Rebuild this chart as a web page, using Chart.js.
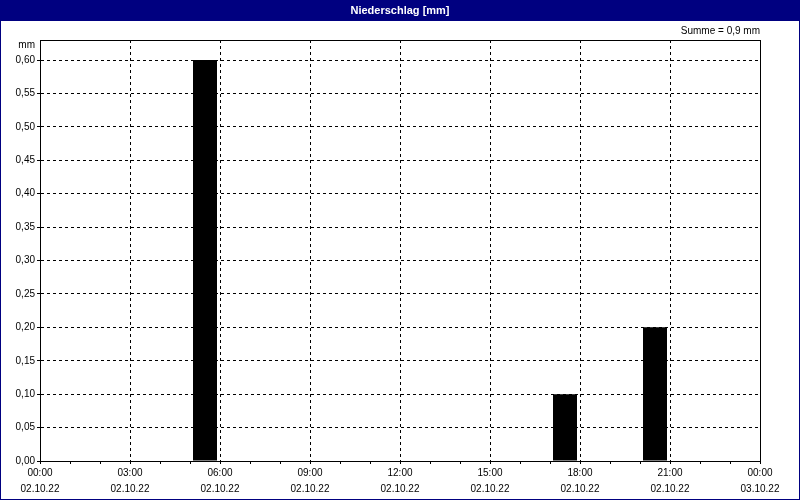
<!DOCTYPE html>
<html>
<head>
<meta charset="utf-8">
<script src="https://cdn.jsdelivr.net/npm/chart.js@4"></script>
<style>
  html, body { margin: 0; padding: 0; background: #fff; }
</style>
</head>
<body>
<canvas id="chart" width="800" height="500"></canvas>
<script>
// hourly rain, index = hour of day (interval h:00 - h+1:00)
var hours = [0, 1, 2, 3, 4, 5, 6, 7, 8, 9, 10, 11, 12, 13, 14, 15, 16, 17, 18, 19, 20, 21, 22, 23];
var rainMm = [0, 0, 0, 0, 0, 0.6, 0, 0, 0, 0, 0, 0, 0, 0, 0, 0, 0, 0.1, 0, 0, 0.2, 0, 0, 0];
var timeLabels = ['00:00', '03:00', '06:00', '09:00', '12:00', '15:00', '18:00', '21:00', '00:00'];
var dateLabels = ['02.10.22', '02.10.22', '02.10.22', '02.10.22', '02.10.22', '02.10.22', '02.10.22', '02.10.22', '03.10.22'];
var yTicks = [0, 0.05, 0.10, 0.15, 0.20, 0.25, 0.30, 0.35, 0.40, 0.45, 0.50, 0.55, 0.60];
var yUnit = 'mm';
var yUnitAt = 0.6225;
var chartTitle = 'Niederschlag [mm]';
var sumText = 'Summe = 0,9 mm';

var FONT = "'Liberation Sans', Arial, sans-serif";
var NAVY = '#000080';

var framePlugin = {
    id: 'frame',
    beforeDraw: function (chart) {
        var ctx = chart.ctx, w = chart.width, h = chart.height;
        ctx.save();
        ctx.fillStyle = '#fff';
        ctx.fillRect(0, 0, w, h);
        ctx.fillStyle = NAVY;
        ctx.fillRect(0, 0, w, 21);
        ctx.fillRect(0, 0, 1, h);
        ctx.fillRect(w - 1, 0, 1, h);
        ctx.fillRect(0, h - 1, w, 1);
        ctx.restore();
    },
    afterDatasetsDraw: function (chart) {
        var a = chart.chartArea, ctx = chart.ctx;
        ctx.save();
        ctx.strokeStyle = '#000';
        ctx.lineWidth = 1;
        ctx.strokeRect(Math.round(a.left) + 0.5, Math.round(a.top) + 0.5,
            Math.round(a.right - a.left), Math.round(a.bottom - a.top));
        ctx.restore();
    }
};

var ctx = document.getElementById('chart').getContext('2d');
var rainChart = new Chart(ctx, {
    type: 'bar',
    data: {
        datasets: [{
            label: 'Niederschlag',
            data: hours.map(function (h, i) { return { x: h + 0.5, y: rainMm[i] }; }),
            backgroundColor: '#000',
            borderWidth: 0,
            barPercentage: 0.8,
            categoryPercentage: 1
        }]
    },
    plugins: [framePlugin],
    options: {
        responsive: false,
        animation: false,
        devicePixelRatio: 1,
        layout: { padding: 0 },
        plugins: {
            legend: { display: false },
            tooltip: { enabled: false },
            title: {
                display: true,
                text: chartTitle,
                color: '#fff',
                font: { family: FONT, size: 11, weight: 'bold', lineHeight: 1.2 },
                padding: { top: 4, bottom: 4 }
            },
            subtitle: {
                display: true,
                text: sumText,
                align: 'end',
                fullSize: false,
                color: '#000',
                font: { family: FONT, size: 10, lineHeight: 1.2 },
                padding: { top: 4, bottom: 2.8 }
            }
        },
        scales: {
            x: {
                type: 'linear',
                min: 0,
                max: 24,
                offset: false,
                afterFit: function (s) { s.height = 39; },
                grid: {
                    offset: false,
                    color: function (c) { return c.tick && c.tick.value % 3 === 0 ? '#000' : 'rgba(0,0,0,0)'; },
                    tickColor: '#000',
                    tickLength: 3,
                    tickBorderDash: []
                },
                border: { display: true, color: '#000', dash: [3, 3] },
                ticks: {
                    stepSize: 1,
                    autoSkip: false,
                    maxRotation: 0,
                    padding: 1,
                    color: '#000',
                    font: { family: FONT, size: 10, lineHeight: 1.6 },
                    callback: function (v) {
                        if (v % 3 !== 0) return '';
                        var i = v / 3;
                        return [timeLabels[i], dateLabels[i]];
                    }
                }
            },
            y: {
                type: 'linear',
                min: 0,
                max: 0.63,
                afterFit: function (s) { s.width = 40; },
                afterBuildTicks: function (s) {
                    s.ticks = yTicks.map(function (v) { return { value: v }; }).concat([{ value: yUnitAt }]);
                },
                grid: {
                    color: function (c) { return c.tick && c.tick.value > 0.61 ? 'rgba(0,0,0,0)' : '#000'; },
                    tickColor: function (c) { return c.tick && c.tick.value > 0.61 ? 'rgba(0,0,0,0)' : '#000'; },
                    tickLength: 3,
                    tickBorderDash: []
                },
                border: { display: true, color: '#000', dash: [3, 3] },
                ticks: {
                    padding: 2,
                    color: '#000',
                    font: { family: FONT, size: 10 },
                    callback: function (v) {
                        if (v > 0.61) return yUnit;
                        return v.toFixed(2).replace('.', ',');
                    }
                }
            },
            yRight: {
                type: 'linear',
                position: 'right',
                display: true,
                afterFit: function (s) { s.width = 40; },
                grid: { display: false },
                border: { display: false },
                ticks: { display: false }
            }
        }
    }
});
</script>
</body>
</html>
